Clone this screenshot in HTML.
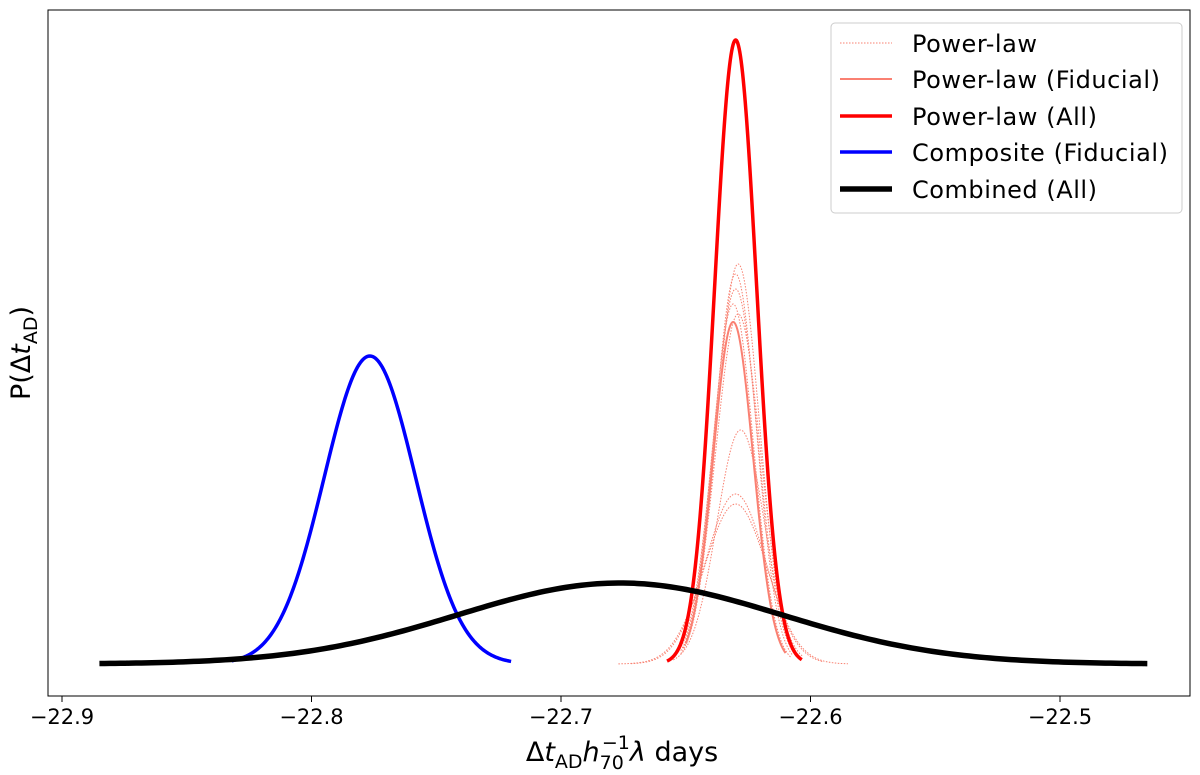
<!DOCTYPE html>
<html><head><meta charset="utf-8"><style>
body{margin:0;background:#fff}
svg{display:block;font-family:"DejaVu Sans","Liberation Sans",sans-serif}
</style></head><body>
<svg id="chart" width="1200" height="775" viewBox="0 0 1200 775">
<g id="plot"></g>
<rect x="48" y="10" width="1142" height="686" fill="none" stroke="#000" stroke-width="1"/>
<g id="xticks"></g>
<text x="622" y="761" font-size="27" text-anchor="middle">Δ<tspan font-style="italic">t</tspan><tspan font-size="19" dy="7">AD</tspan><tspan font-style="italic" dy="-7">h</tspan><tspan font-size="19" dy="8">70</tspan><tspan font-size="19" dx="-22" dy="-20">−1</tspan><tspan font-style="italic" dy="12">λ</tspan> days</text>
<text transform="translate(30,353) rotate(-90)" font-size="27" text-anchor="middle">P(Δ<tspan font-style="italic">t</tspan><tspan font-size="19" dy="7">AD</tspan><tspan dy="-7">)</tspan></text>
<g>
<rect x="831" y="23" width="351" height="190" rx="4" fill="#fff" fill-opacity="0.85" stroke="#ccc" stroke-width="1"/>
<g><line x1="840" y1="43" x2="892" y2="43" stroke="#f88070" stroke-width="1" stroke-dasharray="1.5,1.5"/><text x="912" y="52" font-size="24" textLength="125">Power-law</text></g>
<g><line x1="840" y1="79" x2="892" y2="79" stroke="#fa8072" stroke-width="2"/><text x="912" y="88" font-size="24" textLength="248">Power-law (Fiducial)</text></g>
<g><line x1="840" y1="116" x2="892" y2="116" stroke="#ff0000" stroke-width="3.5"/><text x="912" y="125" font-size="24" textLength="185">Power-law (All)</text></g>
<g><line x1="840" y1="152" x2="892" y2="152" stroke="#0000ff" stroke-width="3.5"/><text x="912" y="161" font-size="24" textLength="256">Composite (Fiducial)</text></g>
<g><line x1="840" y1="189" x2="892" y2="189" stroke="#000" stroke-width="5.5"/><text x="912" y="198" font-size="24" textLength="185">Combined (All)</text></g>
</g>
</svg>
<script>
// tick values
const xTicks = [-22.9, -22.8, -22.7, -22.6, -22.5];
const xTickLabels = ["−22.9", "−22.8", "−22.7", "−22.6", "−22.5"];
// dotted power-law curves: centers, widths, peak heights (relative units), ranges
const plCenters = [-22.629, -22.630, -22.630, -22.631, -22.628, -22.630, -22.630, -22.629];
const plSigmas  = [0.0085, 0.0083, 0.0088, 0.0082, 0.0095, 0.0120, 0.0125, 0.0090];
const plPeaks   = [400, 390, 375, 360, 234, 170, 160, 350];
const plStart   = [-22.652, -22.651, -22.653, -22.650, -22.655, -22.672, -22.677, -22.652];
const plEnd     = [-22.606, -22.607, -22.605, -22.608, -22.603, -22.595, -22.585, -22.606];
// named gaussian series: [center, sigma, peak, start, end]
const fiducialParams  = [-22.631, 0.0080, 342, -22.650, -22.610];
const allParams       = [-22.630, 0.0084, 624, -22.6575, -22.6035];
const compositeParams = [-22.7766, 0.0183, 308, -22.832, -22.720];
const combinedParams  = [-22.6764, 0.065, 81, -22.885, -22.465];

const X0=62, XSCALE=2495, BASE=664;
const xs = v => X0 + (v - (-22.9)) * XSCALE;
const ys = p => BASE - p;
const NS="http://www.w3.org/2000/svg";
const plot=document.getElementById('plot');
function gpath(c,s,a,x1,x2){
  let d="";const n=200;
  for(let i=0;i<=n;i++){const x=x1+(x2-x1)*i/n;const p=a*Math.exp(-0.5*((x-c)/s)**2);
    d+=(i?"L":"M")+xs(x).toFixed(2)+","+ys(p).toFixed(2);}
  return d;
}
function draw(params,stroke,w,dash,name){
  const el=document.createElementNS(NS,'path');
  el.setAttribute('d',gpath(...params));
  el.setAttribute('fill','none');el.setAttribute('stroke',stroke);el.setAttribute('stroke-width',w);
  if(dash)el.setAttribute('stroke-dasharray',dash);
  
  
  plot.appendChild(el);
}
for(let i=0;i<plCenters.length;i++){
  draw([plCenters[i],plSigmas[i],plPeaks[i],plStart[i],plEnd[i]],'#f88070',1,'1.5,1.5','power-law-curve-'+i);
}
draw(fiducialParams,'#fa8072',2,null,'power-law-fiducial-line');
draw(allParams,'#ff0000',3.5,null,'power-law-all-line');
draw(compositeParams,'#0000ff',3.5,null,'composite-fiducial-line');
draw(combinedParams,'#000000',5.5,null,'combined-all-line');
const xg=document.getElementById('xticks');
xTicks.forEach((v,i)=>{
  const l=document.createElementNS(NS,'line');
  l.setAttribute('x1',xs(v));l.setAttribute('x2',xs(v));l.setAttribute('y1',696);l.setAttribute('y2',702);
  l.setAttribute('stroke','#000');
  
  
  xg.appendChild(l);
  const t=document.createElementNS(NS,'text');
  t.setAttribute('x',xs(v));t.setAttribute('y',724);t.setAttribute('font-size','21');t.setAttribute('text-anchor','middle');
  t.textContent=xTickLabels[i];
  
  
  xg.appendChild(t);
});
</script>
</body></html>
